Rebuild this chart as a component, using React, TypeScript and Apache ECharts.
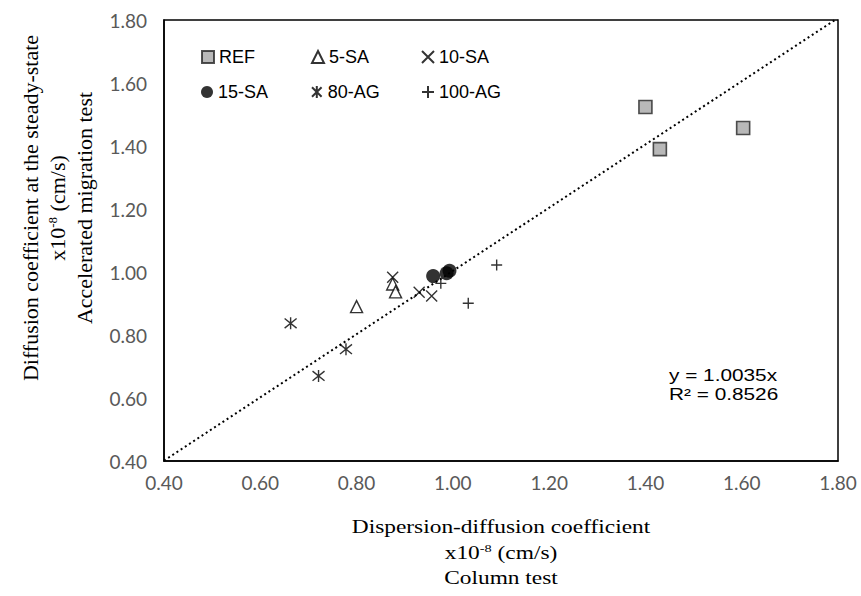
import React, { useEffect, useRef } from "react";
import * as echarts from "echarts";

const seriesNames = ["REF", "5-SA", "10-SA", "15-SA", "80-AG", "100-AG"];
const refData = [[1.4, 1.524], [1.43, 1.39], [1.603, 1.457]];
const sa5Data = [[0.8, 0.89], [0.875, 0.962], [0.881, 0.937]];
const sa10Data = [[0.875, 0.983], [0.93, 0.936], [0.956, 0.924]];
const sa15Data = [[0.959, 0.987], [0.987, 0.996], [0.993, 1.004]];
const ag80Data = [[0.663, 0.837], [0.778, 0.755], [0.721, 0.67]];
const ag100Data = [[1.091, 1.022], [1.032, 0.901], [0.975, 0.964]];
const trendSlope = 1.0035;
const r2 = 0.8526;
const axisTicks = ["0.40", "0.60", "0.80", "1.00", "1.20", "1.40", "1.60", "1.80"];

const crossPath = "path://M0,0 L10,10 M10,0 L0,10";
const plusPath = "path://M5,0 L5,10 M0,5 L10,5";
const starPath = "path://M1,1 L9,9 M9,1 L1,9 M5,0 L5,10";

export default function App() {
  const ref = useRef<HTMLDivElement>(null);
  useEffect(() => {
    if (!ref.current) return;
    const chart = echarts.init(ref.current, null, { renderer: "svg" });
    const lineStroke = { color: "transparent", borderColor: "#000", borderWidth: 1.4 };
    const legendFont = { fontFamily: "Liberation Sans, Arial", fontSize: 18, color: "#000" };
    const mkLegend = (name: string, left: number, top: number) => ({
      data: [name],
      left,
      top,
      padding: 0,
      itemWidth: 12,
      itemHeight: 12,
      itemGap: 0,
      textStyle: legendFont,
      selectedMode: false,
    });
    const serif = "Liberation Serif, Times New Roman, serif";
    const mkRich = (size: number) => ({
      t: { fontFamily: serif, fontSize: size, color: "#000" },
      s: { fontFamily: serif, fontSize: Math.round(size * 0.6), color: "#000", verticalAlign: "top", padding: [0, 0, Math.round(size * 0.45), 0] },
    });
    const tickFmt = (v: number) => axisTicks[Math.round((v - 0.4) / 0.2)] ?? v.toFixed(2);
    chart.setOption({
      animation: false,
      grid: { left: 164, top: 20, right: 23, bottom: 135, show: true, borderColor: "#000", borderWidth: 1.5, backgroundColor: "transparent" },
      xAxis: {
        type: "value", min: 0.4, max: 1.8, interval: 0.2,
        axisLine: { show: true, lineStyle: { color: "#000", width: 1.5 } },
        axisTick: { show: false }, splitLine: { show: false },
        axisLabel: { formatter: tickFmt, fontFamily: "Lato, sans-serif", fontSize: 19, color: "#595959", margin: 12 },
      },
      yAxis: {
        type: "value", min: 0.4, max: 1.8, interval: 0.2,
        axisLine: { show: true, lineStyle: { color: "#000", width: 1.5 } },
        axisTick: { show: false }, splitLine: { show: false },
        axisLabel: { formatter: tickFmt, fontFamily: "Lato, sans-serif", fontSize: 19, color: "#595959", margin: 17 },
      },
      legend: [
        mkLegend("REF", 201, 48), mkLegend("5-SA", 311, 48), mkLegend("10-SA", 421, 48),
        mkLegend("15-SA", 201, 83), mkLegend("80-AG", 311, 83), mkLegend("100-AG", 421, 83),
      ],
      series: [
        { name: seriesNames[0], type: "scatter", data: refData, symbol: "rect", symbolSize: 13, itemStyle: { color: "#a6a6a6", borderColor: "#262626", borderWidth: 1.6 } },
        { name: seriesNames[1], type: "scatter", data: sa5Data, symbol: "triangle", symbolSize: 12, itemStyle: { color: "#fff", borderColor: "#000", borderWidth: 1.4 } },
        { name: seriesNames[2], type: "scatter", data: sa10Data, symbol: crossPath, symbolSize: 11, itemStyle: lineStroke },
        { name: seriesNames[3], type: "scatter", data: sa15Data, symbol: "circle", symbolSize: 14, itemStyle: { color: "#000" } },
        { name: seriesNames[4], type: "scatter", data: ag80Data, symbol: starPath, symbolSize: 12, itemStyle: lineStroke },
        { name: seriesNames[5], type: "scatter", data: ag100Data, symbol: plusPath, symbolSize: 11, itemStyle: lineStroke },
        {
          name: "trend", type: "line", data: [[0.4, 0.4 * trendSlope], [1.8, 1.8 * trendSlope]], symbol: "none",
          lineStyle: { color: "#000", width: 2, type: [2, 3] }, silent: true, z: 1,
        },
      ],
      graphic: [
        { type: "text", x: 669, y: 375, scaleX: 1.3, style: { text: `y = ${trendSlope}x`, font: "16px Liberation Sans, Arial", fill: "#000", verticalAlign: "middle" } },
        { type: "text", x: 669, y: 394, scaleX: 1.3, style: { text: `R² = ${r2}`, font: "16px Liberation Sans, Arial", fill: "#000", verticalAlign: "middle" } },
        { type: "text", x: 501, y: 527, scaleX: 1.3, style: { text: "Dispersion-diffusion coefficient", font: `18px ${serif}`, fill: "#000", align: "center", verticalAlign: "middle" } },
        { type: "text", x: 501, y: 553, scaleX: 1.3, style: { text: "{t|x10}{s|-8}{t| (cm/s)}", rich: mkRich(18), align: "center", verticalAlign: "middle" } },
        { type: "text", x: 501, y: 578, scaleX: 1.3, style: { text: "Column test", font: `18px ${serif}`, fill: "#000", align: "center", verticalAlign: "middle" } },
        { type: "text", x: 30, y: 208, rotation: Math.PI / 2, style: { text: "Diffusion coefficient at the steady-state", font: `22px ${serif}`, fill: "#000", align: "center", verticalAlign: "middle" } },
        { type: "text", x: 57, y: 208, rotation: Math.PI / 2, style: { text: "{t|x10}{s|-8}{t| (cm/s)}", rich: mkRich(22), align: "center", verticalAlign: "middle" } },
        { type: "text", x: 84, y: 208, rotation: Math.PI / 2, style: { text: "Accelerated migration test", font: `22px ${serif}`, fill: "#000", align: "center", verticalAlign: "middle" } },
      ],
    });
    return () => chart.dispose();
  }, []);
  return <div ref={ref} style={{ width: 861, height: 596, position: "absolute", left: 0, top: 0 }} />;
}
